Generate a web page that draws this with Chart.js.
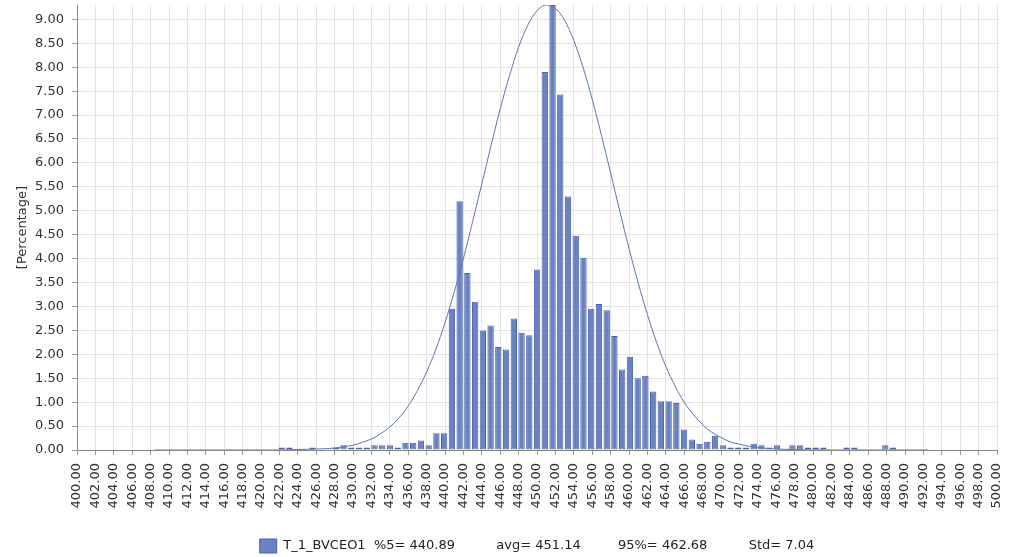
<!DOCTYPE html>
<html>
<head>
<meta charset="utf-8">
<script src="https://cdn.jsdelivr.net/npm/chart.js@4"></script>
<style>
  body { margin: 0; background: #fff; }
</style>
</head>
<body>
<canvas id="hist" width="1012" height="557"></canvas>
<script>
// histogram bins: 100 bins starting at binStart, each binWidth wide
const binStart = 408.36;
const binWidth = 0.8413;
const percent = [
  0, 0, 0, 0, 0, 0, 0, 0, 0, 0, 0, 0, 0, 0, 0, 0,
  0.05, 0.05, 0, 0, 0.05, 0, 0, 0.05, 0.1, 0.05,
  0.05, 0.05, 0.1, 0.1, 0.1, 0.05, 0.15, 0.15, 0.2, 0.1,
  0.35, 0.35, 2.95, 5.2, 3.7, 3.1, 2.5, 2.6, 2.15, 2.1,
  2.75, 2.45, 2.4, 3.77, 7.9, 9.3, 7.43, 5.3, 4.48, 4.02,
  2.95, 3.05, 2.92, 2.38, 1.68, 1.95, 1.5, 1.55, 1.22, 1.02,
  1.02, 0.98, 0.43, 0.22, 0.13, 0.17, 0.3, 0.1, 0.05, 0.05,
  0.05, 0.13, 0.1, 0.05, 0.1, 0, 0.1, 0.1, 0.05, 0.05,
  0.05, 0, 0, 0.05, 0.05, 0, 0, 0, 0.1, 0.05,
  0, 0, 0, 0
];

// fitted normal curve
const curveX = [408.4, 416, 420, 422, 424, 426, 428, 429, 430, 431, 432, 433, 434, 435, 436, 437, 438, 439,
  440, 441, 442, 443, 444, 445, 446, 447, 448, 449, 450, 451, 452, 453, 454, 455, 456, 457, 458, 459,
  460, 461, 462, 463, 464, 465, 466, 467, 468, 469, 470, 471, 472, 473, 474, 476, 478, 480, 486, 492.5];
const curveY = [0, 0, 0, 0, 0.01, 0.02, 0.04, 0.07, 0.1, 0.16, 0.23, 0.34, 0.48, 0.67, 0.92, 1.24, 1.63, 2.1,
  2.66, 3.3, 4.0, 4.77, 5.56, 6.36, 7.13, 7.82, 8.42, 8.88, 9.18, 9.3, 9.23, 8.98, 8.56, 8.0, 7.33, 6.58, 5.79, 4.99,
  4.21, 3.49, 2.83, 2.25, 1.75, 1.34, 1.0, 0.74, 0.53, 0.37, 0.26, 0.17, 0.12, 0.08, 0.05, 0.02, 0.01, 0, 0, 0];

const seriesName = "T_1_BVCEO1";
const stats = ["%5= 440.89", "avg= 451.14", "95%= 462.68", "Std= 7.04"];
const gap = (n) => " ".repeat(n);
const legendText = seriesName + gap(2) + stats[0] + gap(10) + stats[1] + gap(9) + stats[2] + gap(10) + stats[3];

const barData = percent.map((v, i) => ({ x: binStart + (i + 0.5) * binWidth, y: v }));
const curveData = curveX.map((x, i) => ({ x: x, y: curveY[i] }));

Chart.defaults.font.family = "'DejaVu Sans', sans-serif";
Chart.defaults.font.size = 13;
Chart.defaults.color = "#333";

const ctx = document.getElementById("hist").getContext("2d");
new Chart(ctx, {
  type: "bar",
  data: {
    datasets: [
      {
        type: "line",
        label: "curve",
        data: curveData,
        borderColor: "#5d74bd",
        borderWidth: 1,
        pointRadius: 0,
        fill: false,
        cubicInterpolationMode: "monotone",
        order: 0
      },
      {
        label: legendText,
        data: barData,
        backgroundColor: "#6b82c2",
        borderColor: "#4b61a6",
        borderWidth: 1,
        borderSkipped: false,
        categoryPercentage: 1,
        barPercentage: 0.82,
        order: 1
      }
    ]
  },
  options: {
    responsive: false,
    animation: false,
    devicePixelRatio: 1,
    layout: { padding: { top: 5, right: 15, left: 11, bottom: -6 } },
    plugins: {
      tooltip: { enabled: false },
      legend: {
        position: "bottom",
        fullSize: false,
        labels: {
          boxWidth: 17,
          boxHeight: 14,
          padding: 3,
          color: "#222",
          filter: (item) => item.text !== "curve"
        }
      }
    },
    scales: {
      x: {
        type: "linear",
        min: 400,
        max: 500,
        offset: false,
        grid: { offset: false, color: "#e3e3e3", tickColor: "#999", tickLength: 5 },
        border: { color: "#888" },
        ticks: {
          stepSize: 2,
          autoSkip: false,
          maxRotation: 90,
          minRotation: 90,
          padding: 8,
          color: "#333",
          callback: (v) => v.toFixed(2)
        },
        afterFit: (scale) => {
          scale.paddingLeft = 0;
          scale.paddingRight = 0;
          scale.height = 86;
        }
      },
      y: {
        min: 0,
        max: 9.3,
        grid: { color: "#e3e3e3", tickColor: "#999", tickLength: 5 },
        border: { color: "#888" },
        title: { display: true, text: "[Percentage]", color: "#333", padding: 4 },
        ticks: {
          stepSize: 0.5,
          includeBounds: false,
          padding: 8,
          color: "#333",
          callback: (v) => v.toFixed(2)
        },
        afterFit: (scale) => {
          scale.paddingTop = 0;
          scale.paddingBottom = 0;
          scale.width = 66;
        }
      }
    }
  }
});
</script>
</body>
</html>
